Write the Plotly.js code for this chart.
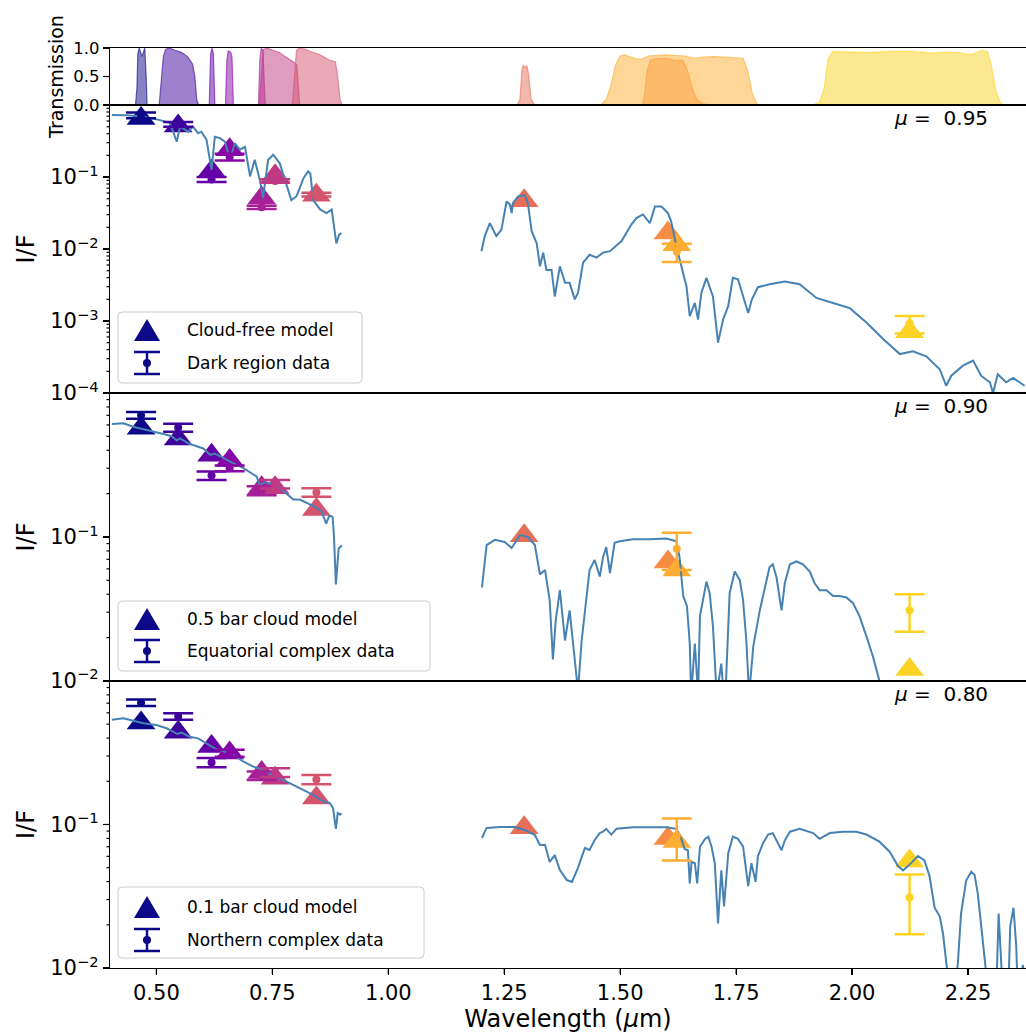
<!DOCTYPE html>
<html><head><meta charset="utf-8">
<script src="https://cdn.plot.ly/plotly-3.0.1.min.js"></script>
<style>html,body{margin:0;padding:0;background:#fff}</style>
</head><body><div id="chart" style="width:1026px;height:1036px"></div>
<script>
// ---------------- DATA ----------------
const filterColors = ['#0d0887','#3e049c','#6300a7','#8606a6','#a62098','#c03a83','#d5546e','#e76f5a','#f68d45','#fdad32','#fcd225'];
const modelWl = [0.467,0.547,0.619,0.658,0.727,0.756,0.845,1.293,1.603,1.622,2.124];
const dataWl  = [0.467,0.547,0.619,0.658,0.727,0.756,0.845,1.622,2.124];
const dataFilterIdx = [0,1,2,3,4,5,6,9,10];

// filter transmission curves
const trans467Wl = [0.455,0.458,0.460,0.463,0.469,0.475,0.478,0.480];
const trans467   = [0,0.3,0.9,1.0,0.85,1.0,0.5,0];
const trans547Wl = [0.506,0.511,0.515,0.520,0.528,0.540,0.555,0.567,0.578,0.583,0.587,0.591];
const trans547   = [0,0.4,0.85,0.98,1.0,0.96,0.92,0.85,0.72,0.5,0.1,0];
const trans619Wl = [0.614,0.617,0.620,0.623,0.626];
const trans619   = [0,0.9,1.0,0.9,0];
const trans658Wl = [0.649,0.652,0.655,0.660,0.663,0.666];
const trans658   = [0,0.8,0.95,0.93,0.85,0];
const trans727Wl = [0.720,0.723,0.726,0.730,0.733,0.735];
const trans727   = [0,0.8,1.0,0.95,0.3,0];
const trans756Wl = [0.722,0.726,0.730,0.738,0.750,0.765,0.780,0.795,0.803,0.806,0.809];
const trans756   = [0,0.6,0.97,1.0,0.97,0.92,0.84,0.76,0.7,0.3,0];
const trans845Wl = [0.793,0.797,0.802,0.808,0.820,0.835,0.850,0.862,0.872,0.886,0.891,0.896,0.900];
const trans845   = [0,0.5,0.95,1.0,0.98,0.93,0.89,0.84,0.79,0.76,0.5,0.1,0];
const trans129Wl = [0.400,1.278,1.284,1.288,1.291,1.295,1.299,1.303,1.308,1.316,2.375];
const trans129   = [0,0,0.1,0.6,0.7,0.66,0.69,0.5,0.1,0,0];
const trans160Wl = [1.548,1.553,1.558,1.565,1.575,1.600,1.620,1.635,1.645,1.655,1.665,1.680,1.700];
const trans160   = [0,0.2,0.6,0.78,0.81,0.82,0.78,0.79,0.6,0.3,0.1,0.02,0];
const trans162Wl = [1.458,1.470,1.480,1.490,1.500,1.510,1.530,1.545,1.560,1.600,1.640,1.660,1.680,1.700,1.730,1.765,1.775,1.785,1.795,1.800];
const trans162   = [0,0.1,0.35,0.7,0.86,0.88,0.82,0.8,0.86,0.88,0.86,0.82,0.84,0.85,0.84,0.82,0.6,0.2,0.02,0];
const trans212Wl = [1.915,1.930,1.940,1.948,1.958,1.990,2.030,2.080,2.130,2.170,2.200,2.230,2.255,2.280,2.292,2.300,2.310,2.320,2.330];
const trans212   = [0,0.05,0.3,0.8,0.94,0.93,0.92,0.94,0.94,0.91,0.93,0.92,0.88,0.96,0.94,0.7,0.25,0.03,0];

// Panel 1: cloud-free model, dark region data (mu = 0.95)
const model1 = [0.65,0.51,0.12,0.24,0.051,0.104,0.056,0.047,0.0167,0.0115,0.00071];
const data1  = [0.72,0.54,0.0925,0.19,0.038,0.088,0.057,0.0092,0.00092];
const err1   = [0.065,0.04,0.0075,0.02,0.002,0.005,0.0035,0.0026,0.00025];
const spec1aWl = [0.404,0.436,0.471,0.508,0.529,0.544,0.551,0.569,0.579,0.590,0.597,0.608,0.619,0.626,0.637,0.648,0.659,0.669,0.680,0.691,0.702,0.712,0.723,0.730,0.741,0.752,0.766,0.781,0.791,0.802,0.817,0.827,0.832,0.838,0.853,0.867,0.878,0.885,0.888,0.894,0.899];
const spec1a   = [0.728,0.724,0.692,0.617,0.562,0.309,0.501,0.427,0.501,0.407,0.427,0.331,0.126,0.363,0.347,0.309,0.174,0.295,0.240,0.263,0.102,0.174,0.0912,0.0513,0.174,0.204,0.155,0.0741,0.0479,0.0537,0.0955,0.120,0.112,0.0479,0.0355,0.0316,0.0355,0.0166,0.0120,0.0158,0.0166];
const spec1bWl = [1.201,1.208,1.219,1.233,1.244,1.255,1.262,1.266,1.269,1.280,1.294,1.301,1.309,1.320,1.327,1.334,1.341,1.352,1.359,1.370,1.381,1.391,1.402,1.409,1.420,1.434,1.449,1.463,1.478,1.492,1.503,1.513,1.524,1.535,1.549,1.564,1.575,1.589,1.603,1.610,1.621,1.632,1.643,1.650,1.661,1.668,1.675,1.686,1.700,1.711,1.722,1.733,1.743,1.754,1.765,1.776,1.784,1.797,1.822,1.855,1.887,1.923,1.959,1.995,2.031,2.067,2.103,2.131,2.160,2.189,2.203,2.214,2.239,2.261,2.278,2.297,2.304,2.314,2.332,2.347,2.361,2.372];
const spec1b   = [0.00933,0.0151,0.0229,0.0151,0.0186,0.0457,0.0417,0.0316,0.0437,0.0537,0.0562,0.0437,0.0178,0.0120,0.00575,0.00891,0.00513,0.00513,0.00219,0.00575,0.00339,0.00339,0.00200,0.00245,0.00646,0.00832,0.00759,0.00891,0.00933,0.0110,0.0129,0.0166,0.0219,0.0269,0.0302,0.0229,0.0389,0.0389,0.0316,0.0240,0.0110,0.00575,0.00302,0.00117,0.00178,0.00105,0.00245,0.00398,0.00219,0.000501,0.00105,0.00162,0.00398,0.00380,0.00219,0.00129,0.00200,0.00295,0.00324,0.00355,0.00324,0.00209,0.00178,0.00151,0.000955,0.000562,0.000347,0.000380,0.000324,0.000214,0.000126,0.000174,0.000240,0.000282,0.000174,0.000141,0.000100,0.000182,0.000141,0.000162,0.000141,0.000126];

// Panel 2: 0.5 bar cloud model, equatorial complex data (mu = 0.90)
const model2 = [0.57,0.48,0.37,0.34,0.22,0.22,0.155,0.102,0.067,0.059,0.012];
const data2  = [0.70,0.575,0.267,0.30,0.21,0.233,0.204,0.083,0.031];
const err2   = [0.037,0.036,0.018,0.014,0.015,0.016,0.014,0.024,0.009];
const spec2aWl = [0.404,0.429,0.450,0.472,0.493,0.515,0.533,0.544,0.551,0.569,0.587,0.601,0.616,0.626,0.644,0.666,0.687,0.705,0.716,0.723,0.734,0.748,0.766,0.781,0.795,0.809,0.827,0.842,0.856,0.866,0.873,0.880,0.883,0.887,0.893,0.900];
const spec2a   = [0.610,0.617,0.583,0.562,0.537,0.519,0.501,0.468,0.484,0.447,0.427,0.412,0.372,0.380,0.355,0.324,0.302,0.275,0.263,0.229,0.240,0.234,0.219,0.200,0.182,0.182,0.170,0.162,0.151,0.124,0.141,0.138,0.100,0.0468,0.0832,0.0871];
const spec2bWl = [1.202,1.212,1.230,1.251,1.266,1.284,1.301,1.316,1.327,1.338,1.348,1.355,1.361,1.370,1.381,1.391,1.402,1.409,1.417,1.426,1.434,1.445,1.456,1.463,1.470,1.478,1.488,1.499,1.528,1.564,1.600,1.621,1.628,1.636,1.644,1.650,1.653,1.661,1.668,1.672,1.679,1.686,1.693,1.700,1.708,1.718,1.723,1.727,1.736,1.747,1.758,1.765,1.772,1.778,1.787,1.794,1.801,1.808,1.815,1.822,1.829,1.837,1.848,1.855,1.866,1.880,1.894,1.909,1.919,1.930,1.945,1.959,1.973,1.988,2.002,2.016,2.031,2.045,2.059,2.075];
const spec2b   = [0.0447,0.0879,0.0955,0.0923,0.0839,0.103,0.100,0.0879,0.0550,0.0589,0.0363,0.0141,0.0263,0.0427,0.0191,0.0309,0.0141,0.0085,0.0191,0.0363,0.0589,0.0692,0.0531,0.0724,0.0851,0.0562,0.0912,0.0933,0.0964,0.0964,0.0977,0.0933,0.0724,0.0389,0.0331,0.0182,0.008,0.0182,0.008,0.0282,0.0363,0.0490,0.0407,0.0240,0.008,0.0132,0.008,0.008,0.0407,0.0575,0.0501,0.0363,0.0191,0.008,0.0174,0.0240,0.0309,0.0389,0.0479,0.0617,0.0646,0.0525,0.0309,0.0479,0.0646,0.0676,0.0646,0.0575,0.0479,0.0427,0.0427,0.0389,0.0389,0.0380,0.0347,0.0282,0.0204,0.0148,0.0100,0.005];

// Panel 3: 0.1 bar cloud model, northern complex data (mu = 0.80)
const model3 = [0.51,0.44,0.35,0.315,0.23,0.21,0.153,0.095,0.080,0.076,0.0557];
const data3  = [0.705,0.566,0.27,0.314,0.219,0.23,0.206,0.083,0.031];
const err3   = [0.037,0.03,0.02,0.017,0.015,0.016,0.015,0.027,0.0138];
const spec3aWl = [0.404,0.429,0.450,0.472,0.500,0.522,0.536,0.545,0.554,0.572,0.590,0.608,0.626,0.644,0.666,0.687,0.709,0.730,0.752,0.773,0.795,0.817,0.838,0.860,0.874,0.881,0.887,0.891,0.896,0.899];
const spec3a   = [0.537,0.550,0.528,0.507,0.493,0.468,0.444,0.427,0.437,0.409,0.398,0.368,0.339,0.324,0.305,0.275,0.253,0.240,0.221,0.204,0.188,0.174,0.161,0.145,0.141,0.130,0.0933,0.120,0.117,0.120];
const spec3bWl = [1.202,1.212,1.241,1.273,1.294,1.316,1.327,1.338,1.348,1.359,1.370,1.385,1.396,1.409,1.424,1.434,1.445,1.456,1.463,1.470,1.481,1.492,1.528,1.564,1.600,1.621,1.632,1.639,1.646,1.650,1.654,1.661,1.666,1.672,1.683,1.690,1.697,1.704,1.711,1.718,1.724,1.733,1.743,1.754,1.765,1.776,1.783,1.792,1.797,1.808,1.819,1.829,1.840,1.848,1.855,1.866,1.887,1.916,1.930,1.952,1.980,2.009,2.031,2.059,2.081,2.099,2.110,2.124,2.142,2.156,2.167,2.178,2.189,2.196,2.203,2.210,2.222,2.228,2.235,2.246,2.257,2.264,2.271,2.278,2.286,2.293,2.311,2.316,2.322,2.330,2.337,2.341,2.348,2.354,2.357,2.365,2.368,2.375];
const spec3b   = [0.0805,0.0946,0.0961,0.0961,0.0916,0.0845,0.0719,0.0719,0.0548,0.0612,0.0482,0.0410,0.0398,0.0498,0.0686,0.0664,0.0780,0.0871,0.0891,0.0933,0.0851,0.0933,0.0955,0.0955,0.0955,0.0933,0.0794,0.0676,0.0661,0.0389,0.0550,0.0537,0.0389,0.0700,0.0794,0.0822,0.0700,0.0537,0.0204,0.0479,0.0269,0.0631,0.0822,0.0794,0.0700,0.0372,0.0537,0.0398,0.0603,0.0741,0.0851,0.0871,0.0741,0.0661,0.0776,0.0891,0.0933,0.0871,0.0794,0.0871,0.0891,0.0891,0.0851,0.0759,0.0646,0.0513,0.0479,0.0525,0.0603,0.0562,0.0437,0.0263,0.0229,0.0174,0.0110,0.007,0.007,0.0107,0.0240,0.0407,0.0468,0.0447,0.0331,0.0214,0.0126,0.007,0.007,0.0240,0.0102,0.007,0.007,0.0195,0.0263,0.0141,0.007,0.007,0.0105,0.008];

const legendLabels = [['Cloud-free model','Dark region data'],['0.5 bar cloud model','Equatorial complex data'],['0.1 bar cloud model','Northern complex data']];
const muLabels = ['0.95','0.90','0.80'];
const xTickVals = [0.5,0.75,1.0,1.25,1.5,1.75,2.0,2.25];
const xTickText = ['0.50','0.75','1.00','1.25','1.50','1.75','2.00','2.25'];
const yTickVals1 = [1e-4,1e-3,1e-2,1e-1];
const yTickText1 = ['10<sup>−4</sup>','10<sup>−3</sup>','10<sup>−2</sup>','10<sup>−1</sup>'];
const yTickVals23 = [1e-2,1e-1];
const yTickText23 = ['10<sup>−2</sup>','10<sup>−1</sup>'];
const transTickVals = [0,0.5,1];
const transTickText = ['0.0','0.5','1.0'];
const minorDigits = [2,3,4,5,6,7,8,9];

// ---------------- BUILD ----------------
function rgba(hex,a){const n=parseInt(hex.slice(1),16);return `rgba(${n>>16&255},${n>>8&255},${n&255},${a})`;}
function minorTicks(lo,hi){const v=[];for(let e=lo;e<hi;e++)minorDigits.forEach(d=>v.push(d*Math.pow(10,e)));return v;}
const FONT = 'DejaVu Sans, Liberation Sans, sans-serif';
const traces = [];
const filters = [[trans467Wl,trans467],[trans547Wl,trans547],[trans619Wl,trans619],[trans658Wl,trans658],[trans727Wl,trans727],[trans756Wl,trans756],[trans845Wl,trans845],[trans129Wl,trans129],[trans160Wl,trans160],[trans162Wl,trans162],[trans212Wl,trans212]];
filters.forEach((f,i)=>{
  traces.push({x:f[0],y:f[1],xaxis:'x',yaxis:'y',mode:'lines',fill:'tozeroy',
    fillcolor:rgba(filterColors[i],0.5),line:{color:rgba(filterColors[i],0.6),width:1.2},showlegend:false,hoverinfo:'skip'});
});
const panels = [
  {m:model1,d:data1,e:err1,sa:[spec1aWl,spec1a],sb:[spec1bWl,spec1b],xa:'x2',ya:'y2',rng:[-4,0],tv:yTickVals1},
  {m:model2,d:data2,e:err2,sa:[spec2aWl,spec2a],sb:[spec2bWl,spec2b],xa:'x3',ya:'y3',rng:[-2,0],tv:yTickVals23},
  {m:model3,d:data3,e:err3,sa:[spec3aWl,spec3a],sb:[spec3bWl,spec3b],xa:'x4',ya:'y4',rng:[-2,0],tv:yTickVals23}
];
panels.forEach(p=>{
  traces.push({x:modelWl,y:p.m,xaxis:p.xa,yaxis:p.ya,mode:'markers',
    marker:{symbol:'triangle-up',size:25,color:filterColors,line:{width:0}},showlegend:false});
  [p.sa,p.sb].forEach(s=>traces.push({x:s[0],y:s[1],xaxis:p.xa,yaxis:p.ya,mode:'lines',
    line:{color:'#4682b4',width:2},showlegend:false}));
  dataWl.forEach((w,j)=>{
    const c = filterColors[dataFilterIdx[j]];
    traces.push({x:[w],y:[p.d[j]],xaxis:p.xa,yaxis:p.ya,mode:'markers',
      marker:{symbol:'circle',size:8,color:c},
      error_y:{type:'data',array:[p.e[j]],visible:true,color:c,thickness:2.5,width:15},showlegend:false});
  });
});

// pixel -> paper helpers (plot area 110..1026 x 48..968)
const PX=v=>(v-110)/916, PY=v=>(968-v)/920;
const shapes=[], annotations=[];

// tick marks drawn as shapes positioned through the axes
const tickShape=(yref,v,len)=>({type:'line',xref:'paper',yref,x0:-len/916,x1:0,y0:v,y1:v,line:{color:'#000',width:1.2},layer:'above'});
panels.forEach(p=>{
  p.tv.forEach(v=>shapes.push(tickShape(p.ya,v,6)));
  minorTicks(p.rng[0],p.rng[1]).forEach(v=>shapes.push(tickShape(p.ya,v,3.5)));
});
transTickVals.forEach(v=>shapes.push(tickShape('y',v,6)));
xTickVals.forEach(v=>shapes.push({type:'line',xref:'x4',yref:'paper',x0:v,x1:v,y0:0,y1:-6/920,line:{color:'#000',width:1.2}}));

const legendBoxes=[[118,312,362,383],[118,601,430,671],[118,887,424,958]];
const legendRows=[[330,363],[619,651],[907,940]];
legendBoxes.forEach((b,k)=>{
  const [x0,y0,x1,y1]=b, r=4;
  const path=`M ${PX(x0+r)},${PY(y0)} L ${PX(x1-r)},${PY(y0)} Q ${PX(x1)},${PY(y0)} ${PX(x1)},${PY(y0+r)} L ${PX(x1)},${PY(y1-r)} Q ${PX(x1)},${PY(y1)} ${PX(x1-r)},${PY(y1)} L ${PX(x0+r)},${PY(y1)} Q ${PX(x0)},${PY(y1)} ${PX(x0)},${PY(y1-r)} L ${PX(x0)},${PY(y0+r)} Q ${PX(x0)},${PY(y0)} ${PX(x0+r)},${PY(y0)} Z`;
  shapes.push({type:'path',xref:'paper',yref:'paper',path,fillcolor:'rgba(255,255,255,0.85)',line:{color:'#cccccc',width:1}});
  const [r1,r2]=legendRows[k], cx=147, col=filterColors[0];
  shapes.push({type:'path',xref:'paper',yref:'paper',path:`M ${PX(cx-13)},${PY(r1+11)} L ${PX(cx+13)},${PY(r1+11)} L ${PX(cx)},${PY(r1-11)} Z`,fillcolor:col,line:{width:0}});
  shapes.push({type:'line',xref:'paper',yref:'paper',x0:PX(cx),x1:PX(cx),y0:PY(r2-11),y1:PY(r2+11),line:{color:col,width:2.5}});
  shapes.push({type:'line',xref:'paper',yref:'paper',x0:PX(cx-13),x1:PX(cx+13),y0:PY(r2-11),y1:PY(r2-11),line:{color:col,width:2.5}});
  shapes.push({type:'line',xref:'paper',yref:'paper',x0:PX(cx-13),x1:PX(cx+13),y0:PY(r2+11),y1:PY(r2+11),line:{color:col,width:2.5}});
  shapes.push({type:'circle',xref:'paper',yref:'paper',x0:PX(cx-4),x1:PX(cx+4),y0:PY(r2+4),y1:PY(r2-4),fillcolor:col,line:{width:0}});
  legendLabels[k].forEach((t,i)=>annotations.push({xref:'paper',yref:'paper',x:PX(185),y:PY(i?r2:r1),xanchor:'left',yanchor:'middle',
    text:t,showarrow:false,font:{family:FONT,size:17,color:'#000'}}));
});
const muY=[118,406,694];
muLabels.forEach((m,k)=>annotations.push({xref:'paper',yref:'paper',x:PX(990),y:PY(muY[k]),xanchor:'right',yanchor:'middle',
  text:'<i>μ</i> =\u00a0 '+m,showarrow:false,font:{family:FONT,size:20,color:'#000'}}));

const baseX={range:[0.4,2.375],showline:true,mirror:true,linecolor:'#000',linewidth:1.2,showgrid:false,zeroline:false,
  ticks:'',showticklabels:false,tickvals:xTickVals,ticktext:xTickText};
const logY=(dom,rng,tv,tt)=>({type:'log',domain:dom,range:rng,tickmode:'array',tickvals:tv,ticktext:tt,ticks:'outside',ticklen:6,
  tickcolor:'#000',tickwidth:1.2,showline:true,linecolor:'#000',linewidth:1.2,showgrid:false,zeroline:false,
  tickfont:{family:FONT,size:21,color:'#000'},
  title:{text:'I/F',font:{family:FONT,size:24,color:'#000'},standoff:8}});

const layout={
  width:1026,height:1036,margin:{l:110,r:0,t:48,b:68},paper_bgcolor:'#fff',plot_bgcolor:'#fff',
  font:{family:FONT,color:'#000'},showlegend:false,
  xaxis:Object.assign({},baseX,{anchor:'y',domain:[0,1]}),
  xaxis2:Object.assign({},baseX,{anchor:'y2',domain:[0,1],matches:'x'}),
  xaxis3:Object.assign({},baseX,{anchor:'y3',domain:[0,1],matches:'x'}),
  xaxis4:Object.assign({},baseX,{anchor:'y4',domain:[0,1],matches:'x',ticks:'outside',ticklen:6,tickwidth:1.2,tickcolor:'#000',
    showticklabels:true,tickfont:{family:FONT,size:21,color:'#000'},
    title:{text:'Wavelength (<i>μ</i>m)',font:{family:FONT,size:24,color:'#000'},standoff:4}}),
  yaxis:{domain:[0.938,1],range:[0,1],tickmode:'array',tickvals:transTickVals,ticktext:transTickText,ticks:'outside',ticklen:6,tickwidth:1.2,
    tickcolor:'#000',showline:true,linecolor:'#000',linewidth:1.2,showgrid:false,zeroline:false,tickfont:{family:FONT,size:16.5,color:'#000'},
    title:{text:'Transmission',font:{family:FONT,size:19,color:'#000'},standoff:4}},
  yaxis2:logY([0.625,0.938],[-4,0],yTickVals1,yTickText1),
  yaxis3:logY([0.312,0.625],[-2,0],yTickVals23,yTickText23),
  yaxis4:logY([0,0.312],[-2,0],yTickVals23,yTickText23),
  shapes,annotations
};
Plotly.newPlot('chart',traces,layout,{displayModeBar:false,staticPlot:true});
</script></body></html>
